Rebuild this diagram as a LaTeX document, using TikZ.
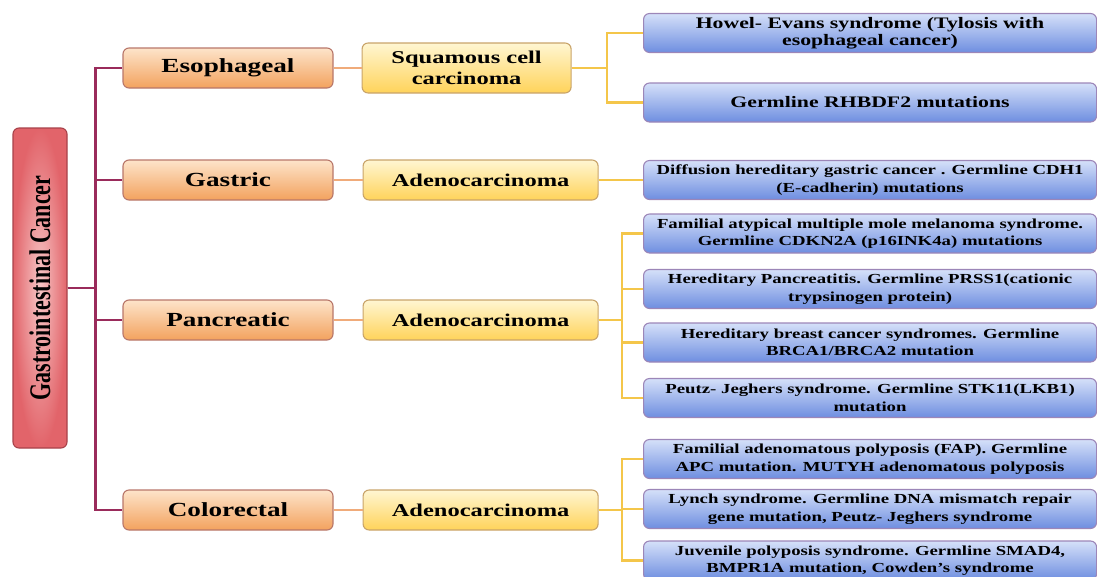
\documentclass[tikz,border=0pt]{standalone}
\usepackage{fontspec}
\usepackage{graphicx}
\setmainfont{Liberation Serif}[FakeStretch=1.36]
\newfontfamily\rootfont{Liberation Serif}
\usetikzlibrary{positioning}
\definecolor{rootout}{HTML}{E2646A}
\definecolor{rootin}{HTML}{F7C6C6}
\definecolor{rootline}{HTML}{A8424A}
\definecolor{organtop}{HTML}{FDE4CA}
\definecolor{organbot}{HTML}{F3A25E}
\definecolor{organline}{HTML}{B8776A}
\definecolor{tumourtop}{HTML}{FFF6D2}
\definecolor{tumourbot}{HTML}{FFD35A}
\definecolor{tumourline}{HTML}{C9A46A}
\definecolor{leaftop}{HTML}{D5E0F9}
\definecolor{leafbot}{HTML}{6E8EE0}
\definecolor{leafline}{HTML}{9C86B8}
\definecolor{trunkred}{HTML}{9A2B5B}
\definecolor{linkorange}{HTML}{F0AB7A}
\definecolor{twiggold}{HTML}{F4C64A}
\begin{document}
\begin{tikzpicture}[
  x=1pt, y=-1pt,
  base/.style={draw, rounded corners=6pt, align=center, inner sep=0pt, line width=1.1pt, text=black},
  root/.style={base, draw=rootline, inner color=rootin, outer color=rootout, minimum width=320pt, minimum height=54pt, rotate=90, font=\rootfont\bfseries\fontsize{22}{26}\selectfont},
  organ/.style={base, draw=organline, top color=organtop, bottom color=organbot, minimum width=210pt, minimum height=40pt, font=\bfseries\fontsize{20}{24}\selectfont},
  tumour/.style={base, draw=tumourline, top color=tumourtop, bottom color=tumourbot, minimum width=235pt, minimum height=40pt, font=\bfseries\fontsize{18}{21.6}\selectfont},
  leaf/.style={base, draw=leafline, top color=leaftop, bottom color=leafbot, minimum width=453pt, minimum height=39pt, anchor=west, font=\bfseries\fontsize{13.8}{17.5}\selectfont},
  leafbig/.style={leaf, font=\bfseries\fontsize{16}{17}\selectfont},
  trunk/.style={draw=trunkred, line width=2.2pt},
  link/.style={draw=linkorange, line width=2.2pt},
  twig/.style={draw=twiggold, line width=2.2pt}
]
\useasboundingbox (0,0) rectangle (1097,576);
% root
\node[root] (gi) at (40,288) {\scalebox{1}[1.36]{Gastrointestinal Cancer}};
% organs
\node[organ] (eso) at (228,68) {Esophageal};
\node[organ] (gas) at (228,180) {Gastric};
\node[organ] (pan) at (228,320) {Pancreatic};
\node[organ] (col) at (228,510) {Colorectal};
% tumour types
\node[tumour, minimum width=209pt, minimum height=50pt, right=28pt of eso] (squ) {Squamous cell\\carcinoma};
\node[tumour, right=29pt of gas] (gasad) {Adenocarcinoma};
\node[tumour, right=29pt of pan] (panad) {Adenocarcinoma};
\node[tumour, right=29pt of col] (colad) {Adenocarcinoma};
% syndromes
\node[leafbig] (eso1) at (643,33) {Howel- Evans syndrome (Tylosis with\\esophageal cancer)};
\node[leafbig] (eso2) at (643,102.5) {Germline RHBDF2 mutations};
\node[leaf] (gas1) at (643,180) {Diffusion hereditary gastric cancer . Germline CDH1\\(E-cadherin) mutations};
\node[leaf] (pan1) at (643,233.5) {Familial atypical multiple mole melanoma syndrome.\\Germline CDKN2A (p16INK4a) mutations};
\node[leaf] (pan2) at (643,289) {Hereditary Pancreatitis. Germline PRSS1(cationic\\trypsinogen protein)};
\node[leaf] (pan3) at (643,342.5) {Hereditary breast cancer syndromes. Germline\\BRCA1/BRCA2 mutation};
\node[leaf] (pan4) at (643,398) {Peutz- Jeghers syndrome. Germline STK11(LKB1)\\mutation};
\node[leaf] (col1) at (643,459) {Familial adenomatous polyposis (FAP). Germline\\APC mutation. MUTYH adenomatous polyposis};
\node[leaf] (col2) at (643,509) {Lynch syndrome. Germline DNA mismatch repair\\gene mutation, Peutz- Jeghers syndrome};
\node[leaf] (col3) at (643,560.5) {Juvenile polyposis syndrome. Germline SMAD4,\\BMPR1A mutation, Cowden's syndrome};
% connectors
\foreach \o in {eso,gas,pan,col}
  \draw[trunk] (gi.south) -- ++(28,0) |- (\o.west);
\draw[link] (eso) -- (squ);
\draw[link] (gas) -- (gasad);
\draw[link] (pan) -- (panad);
\draw[link] (col) -- (colad);
\foreach \s in {eso1,eso2}
  \draw[twig] (squ.east) -- ++(35,0) |- (\s.west);
\draw[twig] (gasad) -- (gas1);
\foreach \s in {pan1,pan2,pan3,pan4}
  \draw[twig] (panad.east) -- ++(23,0) |- (\s.west);
\foreach \s in {col1,col2,col3}
  \draw[twig] (colad.east) -- ++(23,0) |- (\s.west);
\end{tikzpicture}
\end{document}
